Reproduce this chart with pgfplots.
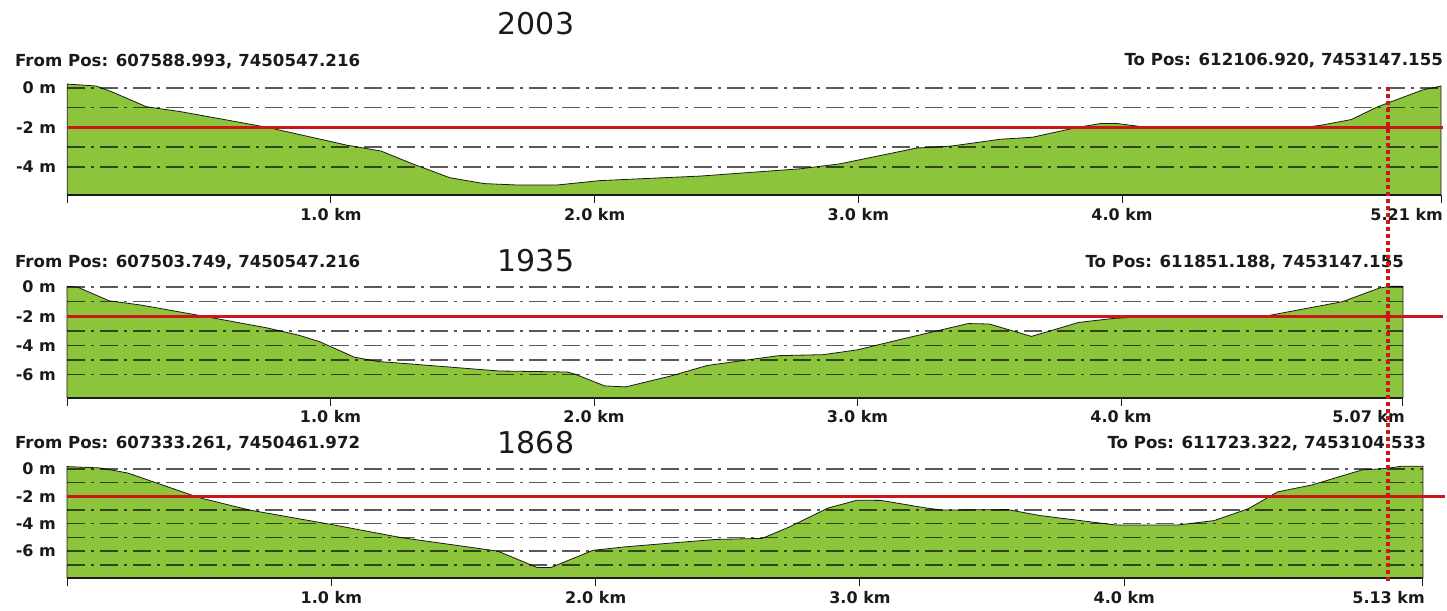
\documentclass[border=0pt]{standalone}
\usepackage{pgfplots}
\pgfplotsset{compat=1.18}
\usepackage{fontspec}
\setmainfont{DejaVu Sans}
\newfontfamily\yearfont{DejaVu Sans}

\definecolor{land}{RGB}{140,196,60}
\definecolor{levelred}{RGB}{205,22,26}
\definecolor{ink}{RGB}{26,26,26}

\newcommand\lbl{\fontsize{16}{18}\selectfont\bfseries}
\newcommand\hdr{\fontsize{16.6}{18}\selectfont\bfseries}
\newcommand\yr{\yearfont\fontsize{30}{32}\selectfont}

\pgfplotsset{
  profile/.style={
    scale only axis, clip=false,
    anchor=south west,
    axis line style={draw=none},
    xtick pos=left, ytick pos=left,
    tick align=outside,
    major tick length=8pt,
    xtick style={draw=ink, line width=1pt},
    ytick style={draw=none},
    xmin=0, ymax=0.3,
    xticklabel style={anchor=base, inner sep=0pt, yshift=-17pt, font=\lbl, text=ink},
    yticklabel style={anchor=east, inner sep=0pt, xshift=-3pt, font=\lbl, text=ink},
    extra x tick style={xticklabel style={anchor=base east, xshift=2pt}},
  },
  ground/.style={fill=land, draw=ink, line width=0.8pt},
  baseline axis/.style={ink, line width=1.8pt},
  grid line/.style={black, opacity=0.65, line width=1.5pt,
    dash pattern=on 18pt off 6pt on 3pt off 6pt},
  level/.style={levelred, line width=3pt},
  cursor/.style={levelred, line width=4pt, dash pattern=on 4pt off 3pt},
}

\begin{document}
\begin{tikzpicture}[x=1pt,y=1pt]
\path[use as bounding box] (0,0) rectangle (1447,610);

% headers
\begin{scope}[every node/.style={inner sep=0pt, text=ink}]
  \node[anchor=base west, font=\hdr] at (15,543) {From Pos: 607588.993, 7450547.216};
  \node[anchor=base east, font=\hdr] at (1443,544) {To Pos: 612106.920, 7453147.155};
  \node[anchor=base, font=\yr] at (536,575) {2003};

  \node[anchor=base west, font=\hdr] at (15,342) {From Pos: 607503.749, 7450547.216};
  \node[anchor=base east, font=\hdr] at (1404,342) {To Pos: 611851.188, 7453147.155};
  \node[anchor=base, font=\yr] at (536,338) {1935};

  \node[anchor=base west, font=\hdr] at (15,161) {From Pos: 607333.261, 7450461.972};
  \node[anchor=base east, font=\hdr] at (1426,161) {To Pos: 611723.322, 7453104.533};
  \node[anchor=base, font=\yr] at (536,156) {1868};
\end{scope}

% ---- 2003 profile ----
\begin{axis}[profile, at={(67.3pt,414.6pt)}, width=1373.7pt, height=113.3pt,
  xmax=5.21, ymin=-5.45,
  xtick={0,1,2,3,4}, xticklabels={,1.0 km,2.0 km,3.0 km,4.0 km},
  extra x ticks={5.21}, extra x tick labels={5.21 km},
  ytick={0,-2,-4}, yticklabels={0 m,-2 m,-4 m}]
\addplot[ground] coordinates {
  (0,-5.45) (0,0.2) (0.11,0.1) (0.17,-0.2) (0.30,-0.95) (0.43,-1.2)
  (0.76,-2.0) (1.06,-2.9) (1.19,-3.2) (1.30,-3.8) (1.45,-4.55) (1.58,-4.85)
  (1.70,-4.92) (1.86,-4.92) (2.02,-4.7) (2.40,-4.47) (2.78,-4.1) (2.93,-3.85)
  (3.22,-3.05) (3.35,-2.95) (3.54,-2.6) (3.66,-2.5) (3.83,-2.0) (3.92,-1.8)
  (3.98,-1.8) (4.08,-1.97) (4.40,-1.98) (4.70,-1.98) (4.75,-1.9) (4.87,-1.6)
  (4.97,-0.95) (5.07,-0.45) (5.14,-0.1) (5.21,0.1) (5.21,-5.45) (0,-5.45)};
\addplot[baseline axis] coordinates {(0,-5.45) (5.21,-5.45)};
\pgfplotsinvokeforeach{0,-1,-3,-4}{
  \addplot[grid line] coordinates {(0,#1) (5.21,#1)};
}
\addplot[level] coordinates {(0,-2) (5.217,-2)};
\end{axis}

% ---- 1935 profile ----
\begin{axis}[profile, at={(67pt,212pt)}, width=1336pt, height=115.3pt,
  xmax=5.07, ymin=-7.6,
  xtick={0,1,2,3,4}, xticklabels={,1.0 km,2.0 km,3.0 km,4.0 km},
  extra x ticks={5.07}, extra x tick labels={5.07 km},
  ytick={0,-2,-4,-6}, yticklabels={0 m,-2 m,-4 m,-6 m}]
\addplot[ground] coordinates {
  (0,-7.6) (0,0.05) (0.04,0.0) (0.16,-0.94) (0.28,-1.23) (0.52,-2.0)
  (0.76,-2.8) (0.88,-3.3) (0.96,-3.75) (1.09,-4.8) (1.18,-5.1) (1.27,-5.22)
  (1.64,-5.75) (1.90,-5.82) (1.93,-5.98) (2.04,-6.77) (2.12,-6.84) (2.29,-6.1)
  (2.43,-5.37) (2.70,-4.7) (2.87,-4.63) (3.00,-4.3) (3.16,-3.6) (3.42,-2.5)
  (3.50,-2.53) (3.66,-3.38) (3.84,-2.42) (3.97,-2.15) (4.07,-2.05) (4.22,-1.95)
  (4.56,-1.95) (4.84,-1.0) (4.98,-0.07) (5.02,0.05) (5.07,0.05)
  (5.07,-7.6) (0,-7.6)};
\addplot[baseline axis] coordinates {(0,-7.6) (5.07,-7.6)};
\pgfplotsinvokeforeach{0,-1,-3,-4,-5,-6}{
  \addplot[grid line] coordinates {(0,#1) (5.07,#1)};
}
\addplot[level] coordinates {(0,-2) (5.222,-2)};
\end{axis}

% ---- 1868 profile ----
\begin{axis}[profile, at={(67pt,32pt)}, width=1355.9pt, height=113.2pt,
  xmax=5.13, ymin=-7.96,
  xtick={0,1,2,3,4}, xticklabels={,1.0 km,2.0 km,3.0 km,4.0 km},
  extra x ticks={5.13}, extra x tick labels={5.13 km},
  ytick={0,-2,-4,-6}, yticklabels={0 m,-2 m,-4 m,-6 m}]
\addplot[ground] coordinates {
  (0,-7.96) (0,0.17) (0.125,0.07) (0.23,-0.3) (0.38,-1.3) (0.50,-2.1)
  (0.69,-3.0) (1.01,-4.09) (1.26,-5.0) (1.63,-6.0) (1.78,-7.2) (1.83,-7.2)
  (1.99,-5.94) (2.11,-5.69) (2.26,-5.45) (2.45,-5.15) (2.63,-5.07) (2.73,-4.26)
  (2.88,-2.85) (2.99,-2.28) (3.08,-2.3) (3.25,-2.85) (3.31,-3.0) (3.56,-2.97)
  (3.68,-3.4) (3.97,-4.1) (4.20,-4.1) (4.34,-3.77) (4.47,-2.9) (4.58,-1.68)
  (4.71,-1.17) (4.90,-0.07) (4.99,0.03) (5.05,0.2) (5.13,0.2)
  (5.13,-7.96) (0,-7.96)};
\addplot[baseline axis] coordinates {(0,-7.96) (5.13,-7.96)};
\pgfplotsinvokeforeach{0,-1,-3,-4,-5,-6,-7}{
  \addplot[grid line] coordinates {(0,#1) (5.13,#1)};
}
\addplot[level] coordinates {(0,-2) (5.214,-2)};
% cursor running through all three profiles
\addplot[cursor] coordinates {(4.998,27.88) (4.998,-8.18)};
\end{axis}
\end{tikzpicture}
\end{document}
